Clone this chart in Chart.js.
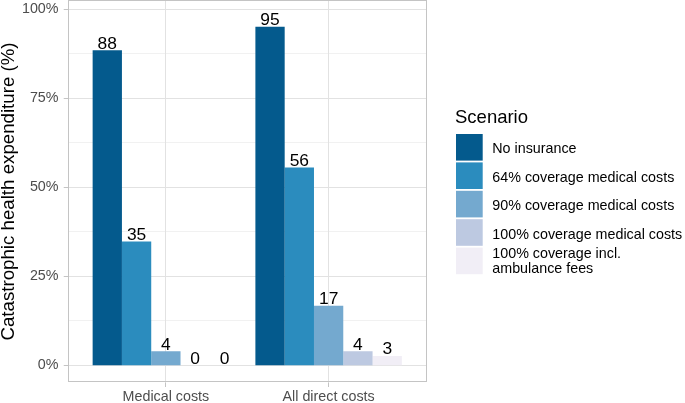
<!DOCTYPE html>
<html>
<head>
<meta charset="utf-8">
<script src="https://cdn.jsdelivr.net/npm/chart.js@4"></script>
<style>
  html, body { margin: 0; padding: 0; background: #fff; }
  #wrap { position: relative; width: 685px; height: 403px; }
</style>
</head>
<body>
<div id="wrap"><canvas id="chart" width="685" height="403"></canvas></div>
<script>
// Catastrophic health expenditure per insurance scenario

const categories = ['Medical costs', 'All direct costs'];
const scenarios = [
    'No insurance',
    '64% coverage medical costs',
    '90% coverage medical costs',
    '100% coverage medical costs',
    ['100% coverage incl.', 'ambulance fees']
];
const noInsurance = [88.4, 95.0];
const coverage64 = [34.7, 55.5];
const coverage90 = [3.9, 16.7];
const coverage100 = [0, 3.9];
const coverage100Amb = [0, 2.6];
const yTicks = [0, 25, 50, 75, 100];
const yMinor = [12.5, 37.5, 62.5, 87.5];

const colors = ['#045a8d', '#2b8cbe', '#74a9cf', '#bdc9e1', '#f1eef6'];
const FONT = '"Liberation Sans", Arial, sans-serif';

// panel box like ggplot: discrete axis expanded by 0.6 units each side
function panelBox(chart) {
    const x = chart.scales.x;
    const a = chart.chartArea;
    const unit = x.getPixelForValue(1) - x.getPixelForValue(0);
    return {
        left: x.getPixelForValue(0) - 0.6 * unit,
        right: x.getPixelForValue(categories.length - 1) + 0.6 * unit,
        top: a.top,
        bottom: a.bottom
    };
}

function crisp(v) {
    return Math.round(v - 0.5) + 0.5;
}

const panelPlugin = {
    id: 'panel',
    beforeDatasetsDraw(chart) {
        const { ctx, scales: { x, y } } = chart;
        const p = panelBox(chart);
        ctx.save();
        ctx.lineWidth = 1;
        ctx.strokeStyle = '#f1f1f1';
        yMinor.forEach(v => {
            const py = crisp(y.getPixelForValue(v));
            ctx.beginPath(); ctx.moveTo(p.left, py); ctx.lineTo(p.right, py); ctx.stroke();
        });
        ctx.strokeStyle = '#e2e2e2';
        yTicks.forEach(v => {
            const py = crisp(y.getPixelForValue(v));
            ctx.beginPath(); ctx.moveTo(p.left, py); ctx.lineTo(p.right, py); ctx.stroke();
        });
        categories.forEach((c, i) => {
            const px = crisp(x.getPixelForValue(i));
            ctx.beginPath(); ctx.moveTo(px, p.top); ctx.lineTo(px, p.bottom); ctx.stroke();
        });
        ctx.restore();
    },
    afterDatasetsDraw(chart) {
        const { ctx, scales: { x, y } } = chart;
        const p = panelBox(chart);
        ctx.save();

        // value labels on top of bars
        ctx.fillStyle = '#000';
        ctx.font = '17.4px ' + FONT;
        ctx.textAlign = 'center';
        ctx.textBaseline = 'alphabetic';
        chart.data.datasets.forEach((ds, di) => {
            chart.getDatasetMeta(di).data.forEach((bar, i) => {
                ctx.fillText(String(Math.round(ds.data[i])), bar.x, bar.y - 1.5);
            });
        });

        // panel border + axis ticks
        ctx.strokeStyle = '#c4c4c4';
        ctx.lineWidth = 1;
        ctx.strokeRect(crisp(p.left), crisp(p.top), Math.round(p.right - p.left), Math.round(p.bottom - p.top) - 1);
        ctx.beginPath();
        yTicks.forEach(v => {
            const py = crisp(y.getPixelForValue(v));
            ctx.moveTo(p.left - 4.5, py); ctx.lineTo(p.left, py);
        });
        categories.forEach((c, i) => {
            const px = crisp(x.getPixelForValue(i));
            ctx.moveTo(px, p.bottom); ctx.lineTo(px, p.bottom + 4.5);
        });
        ctx.stroke();

        // legend
        const lx = 456, top0 = 134, pitch = 28.4, keyW = 26.7, keyH = 26.6;
        ctx.textAlign = 'left';
        ctx.fillStyle = '#000';
        ctx.font = '18.5px ' + FONT;
        ctx.fillText('Scenario', 455, 123.3);
        ctx.font = '14.3px ' + FONT;
        scenarios.forEach((label, i) => {
            const ty = top0 + i * pitch;
            ctx.fillStyle = colors[i];
            ctx.fillRect(lx, ty, keyW, keyH);
            ctx.fillStyle = '#000';
            const cy = ty + keyH / 2;
            if (Array.isArray(label)) {
                ctx.fillText(label[0], 492.3, cy - 3.4);
                ctx.fillText(label[1], 492.3, cy + 11.6);
            } else {
                ctx.fillText(label, 492.3, cy + 6);
            }
        });
        ctx.restore();
    }
};

const seriesData = [noInsurance, coverage64, coverage90, coverage100, coverage100Amb];

new Chart(document.getElementById('chart'), {
    type: 'bar',
    data: {
        labels: categories,
        datasets: seriesData.map((d, i) => ({
            label: Array.isArray(scenarios[i]) ? scenarios[i].join(' ') : scenarios[i],
            data: d,
            backgroundColor: colors[i],
            borderWidth: 0,
            categoryPercentage: 0.9,
            barPercentage: 1.0
        }))
    },
    options: {
        responsive: false,
        devicePixelRatio: 1,
        animation: false,
        layout: { padding: { left: 0, right: 275, top: 0.5, bottom: 0 } },
        plugins: {
            legend: { display: false },
            tooltip: { enabled: false }
        },
        scales: {
            x: {
                type: 'category',
                offset: true,
                grid: { display: false, drawTicks: false, tickLength: 0 },
                border: { display: false },
                ticks: {
                    color: '#4d4d4d',
                    font: { family: FONT, size: 14.3 },
                    padding: 6,
                    maxRotation: 0
                },
                afterFit: s => {
                    s.height = 20.5;
                    s.paddingLeft = 0;
                    s.paddingRight = 0;
                }
            },
            y: {
                min: -4.86,
                max: 102.4,
                grid: { display: false, drawTicks: false, tickLength: 0 },
                border: { display: false },
                afterBuildTicks: s => { s.ticks = yTicks.map(v => ({ value: v })); },
                ticks: {
                    color: '#4d4d4d',
                    font: { family: FONT, size: 14.3 },
                    padding: 26,
                    callback: v => v + '%'
                },
                title: {
                    display: true,
                    text: 'Catastrophic health expenditure (%)',
                    color: '#000',
                    font: { family: FONT, size: 18.7, lineHeight: 1 },
                    padding: 0
                },
                afterFit: s => {
                    s.width = 84.5;
                    s.paddingTop = 0;
                    s.paddingBottom = 0;
                }
            }
        }
    },
    plugins: [panelPlugin]
});
</script>
</body>
</html>
